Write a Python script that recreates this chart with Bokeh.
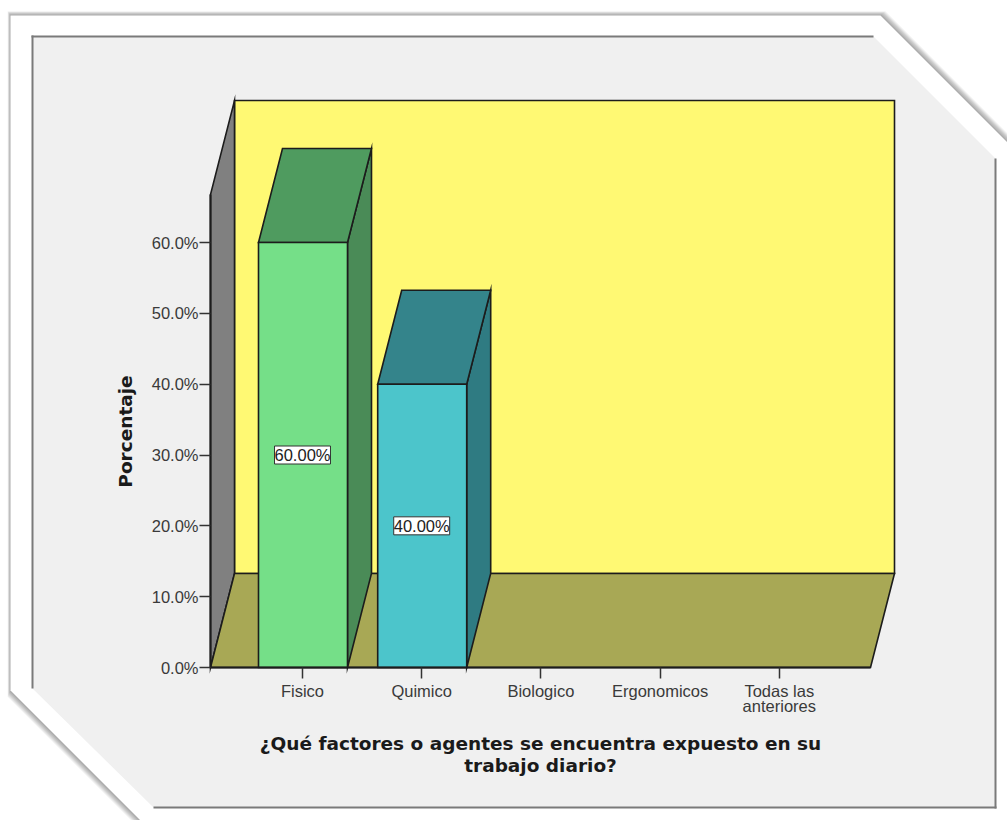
from bokeh.plotting import figure
from bokeh.models import Range1d, FixedTicker, PolyAnnotation, Label, ColumnDataSource, LabelSet
from bokeh.core.properties import value
from bokeh.embed import file_html
from bokeh.resources import INLINE
import math

categories = ["Fisico", "Quimico", "Biologico", "Ergonomicos", "Todas las", "anteriores"]
percent = [60.0, 40.0, 0.0, 0.0, 0.0]
value_labels = ["60.00%", "40.00%", "", "", ""]
y_ticks = [0, 10, 20, 30, 40, 50, 60]
front_colors = ["#75DF88", "#4CC5CB", "#B0B0B0", "#B0B0B0", "#B0B0B0"]
top_colors = ["#4F9B5F", "#34848B", "#808080", "#808080", "#808080"]
side_colors = ["#4A8B57", "#2F7B82", "#707070", "#707070", "#707070"]

# scale: reference pixels <-> data
X0, XS = 302.0, 119.2
Y0, YS = 667.0, 7.083
def dx(px): return (px - X0) / XS
def dy(py): return (Y0 - py) / YS

W, H = 1007, 820
p = figure(width=W, height=H, min_border=0,
           x_range=Range1d(dx(0), dx(W)), y_range=Range1d(dy(H), dy(0)),
           output_backend="svg", toolbar_location=None, tools="")
p.border_fill_color = "white"
p.background_fill_color = "white"
p.outline_line_color = None
p.grid.visible = False

def poly(pts, fill, alpha=1.0):
    p.patch([dx(x) for x, _ in pts], [dy(y) for _, y in pts],
            fill_color=fill, fill_alpha=alpha, line_color=None)

# drop shadow of the white card, white card, grey panel, panel edges
for k in (7, 6, 5, 4, 3, 2, 1):
    c = k * 1.3
    poly([(10 - k * .4, 15 - k * .6), (880 - k * .6 + c, 15 - k * .6), (1100, 235 - c), (1100, 900),
          (220 - c, 900), (10 - k * .4, 690 - k * .4 + c)], "#000000", 0.055)
poly([(10, 15), (880, 15), (1100, 235), (1100, 900), (220, 900), (10, 690)], "#FFFFFF")
poly([(32, 36), (873, 36), (995, 158), (995, 807), (153, 807), (32, 688)], "#F0F0F0")
edge = "#7A7A7A"
poly([(31, 35), (873, 35), (873, 37), (31, 37)], edge)
poly([(31, 35), (33, 35), (33, 688), (31, 688)], edge)
poly([(994, 158), (996, 158), (996, 808), (994, 808)], edge)
poly([(153, 806), (996, 806), (996, 808), (153, 808)], edge)

# 3-D box
n = len(percent)
depth_x = 24 / XS
depth_y = 94 / YS
x_left = dx(210)
x_right = dx(870)
y_top = dy(100) - depth_y
OUT = dict(line_color="#1C1C1C", line_width=1.6, line_join="miter")
p.patch([x_left + depth_x, x_right + depth_x, x_right + depth_x, x_left + depth_x],
        [depth_y, depth_y, y_top + depth_y, y_top + depth_y], fill_color="#FFF973", **OUT)
p.patch([x_left, x_left + depth_x, x_left + depth_x, x_left],
        [0, depth_y, y_top + depth_y, y_top], fill_color="#808080", **OUT)
p.patch([x_left, x_right, x_right + depth_x, x_left + depth_x],
        [0, 0, depth_y, depth_y], fill_color="#A8A855", **OUT)

half = 44.5 / XS
for i, v in enumerate(percent):
    if v <= 0:
        continue
    l, r = i + 0.5 / XS - half, i + 0.5 / XS + half
    p.patch([r, r + depth_x, r + depth_x, r], [0, depth_y, v + depth_y, v], fill_color=side_colors[i], **OUT)
    p.patch([l, r, r + depth_x, l + depth_x], [v, v, v + depth_y, v + depth_y], fill_color=top_colors[i], **OUT)
    p.patch([l, r, r, l], [0, 0, v, v], fill_color=front_colors[i], **OUT)

src = ColumnDataSource(dict(x=[i for i, v in enumerate(percent) if v > 0],
                            y=[v / 2 for v in percent if v > 0],
                            t=[value_labels[i] for i, v in enumerate(percent) if v > 0]))
p.add_layout(LabelSet(x="x", y="y", text="t", source=src, text_align="center", text_baseline="middle",
                      text_font=value("Liberation Sans"), text_font_size="16.5px", text_color="#222222",
                      background_fill_color="white", border_line_color="#333333", border_line_width=1))

# axes
ya = p.yaxis[0]
ya.fixed_location = x_left
ya.ticker = FixedTicker(ticks=y_ticks)
ya.major_label_overrides = {t: f"{t:.1f}%" for t in y_ticks}
ya.bounds = (0, y_top)
ya.axis_line_color = "#1C1C1C"
ya.axis_line_width = 2
ya.major_tick_line_color = "#333333"
ya.major_tick_line_width = 1.5
ya.major_tick_in = 0
ya.major_tick_out = 11
ya.minor_tick_line_color = None
ya.major_label_text_font = "Liberation Sans"
ya.major_label_text_font_size = "16.5px"
ya.major_label_text_color = "#3A3A3A"
ya.major_label_standoff = 1

xa = p.xaxis[0]
xa.fixed_location = 0
xa.ticker = FixedTicker(ticks=list(range(n)))
xa.major_label_overrides = {i: categories[i] for i in range(n)}
xa.bounds = (x_left, x_right)
xa.axis_line_color = "#1C1C1C"
xa.axis_line_width = 2
xa.major_tick_line_color = "#333333"
xa.major_tick_line_width = 1.5
xa.major_tick_in = 0
xa.major_tick_out = 11
xa.minor_tick_line_color = None
xa.major_label_text_font = "Liberation Sans"
xa.major_label_text_font_size = "16.5px"
xa.major_label_text_color = "#3A3A3A"
xa.major_label_standoff = 3

p.add_layout(Label(x=4, y=dy(705), text=categories[5], text_font="Liberation Sans", text_font_size="16.5px",
                   text_color="#3A3A3A", text_align="center", text_baseline="middle"))

TITLE = dict(text_font="DejaVu Sans", text_font_style="bold", text_font_size="18.5px",
             text_color="#1A1A1A", text_align="center", text_baseline="middle")
p.add_layout(Label(x=dx(540), y=dy(743), text="¿Qué factores o agentes se encuentra expuesto en su", **TITLE))
p.add_layout(Label(x=dx(540), y=dy(765), text="trabajo diario?", **TITLE))
p.add_layout(Label(x=dx(125), y=dy(431), text="Porcentaje", angle=math.pi / 2, **TITLE))

open("out.html", "w").write(file_html(p, INLINE))
